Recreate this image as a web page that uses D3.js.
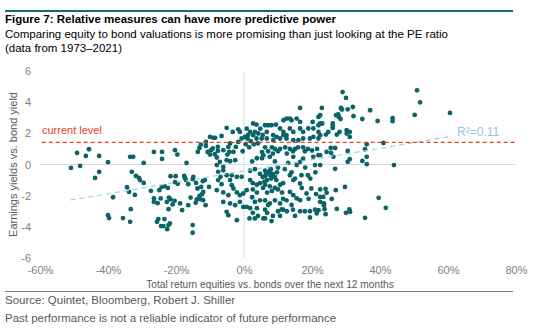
<!DOCTYPE html>
<html><head><meta charset="utf-8">
<script src="https://cdn.jsdelivr.net/npm/d3@7"></script>
<style>
body{margin:0;background:#fff;}
svg{display:block;font-family:"Liberation Sans",Arial,sans-serif;}
</style></head>
<body><svg id="c" width="544" height="334"></svg>
<script>
const titleText = "Figure 7: Relative measures can have more predictive power";
const subtitleLines = ["Comparing equity to bond valuations is more promising than just looking at the PE ratio", "(data from 1973\u20132021)"];
const footerLines = ["Source: Quintet, Bloomberg, Robert J. Shiller", "Past performance is not a reliable indicator of future performance"];
const xTicks = [-60, -40, -20, 0, 20, 40, 60, 80];
const yTicks = [-6, -4, -2, 0, 2, 4, 6];
const xLabel = "Total return equities vs. bonds over the next 12 months";
const yLabel = "Earnings yields vs. bond yield";
const currentLevel = 1.42;
const trendX = [-51, 60];
const trendY = [-2.28, 1.77];
const rSquaredLabel = "R\u00b2=0.11";
// [total return equities vs bonds next 12m (%), earnings yield minus bond yield]
const points = [
[-49.1,0.74],[-45.6,0.98],[-46.5,0.55],[-42.6,0.55],[-40.0,0.15],[-50.9,-0.22],[-48.2,-0.09],[-42.6,-0.47],[-43.8,-0.86],[-33.5,0.49],[-32.6,0.49],[-26.5,0.81],[-24.1,0.81],[-24.1,0.36],[-29.5,0.10],[-33.0,-0.47],[-31.8,-0.73],[-30.9,-0.86],[-30.6,-1.0],[-29.5,-1.18],[-34.4,-1.46],[-33.8,-1.76],[-32.1,-1.95],[-38.5,-2.1],[-27.4,-1.69],[-24.9,-1.65],[-24.2,-1.44],[-23.4,-1.39],[-22.4,-1.5],[-26.5,-2.18],[-26.5,-2.4],[-25.4,-2.48],[-24.5,-2.18],[-22.7,-2.4],[-22.1,-2.12],[-22.2,-2.87],[-33.3,-2.87],[-40.0,-3.25],[-39.7,-3.44],[-35.6,-3.44],[-33.5,-3.68],[-25.2,-3.5],[-25.6,-3.68],[-23.4,-3.5],[-24.4,-3.95],[-23.7,-3.95],[-22.6,-4.15],[-22.2,-3.89],
[-20.3,0.92],[-19.6,0.64],[-16.9,0.10],[-21.6,-0.75],[-20.1,-0.75],[-20.3,-1.13],[-19.5,-1.24],[-17.6,-0.73],[-17.4,-0.86],[-17.1,-0.99],[-14.9,-0.79],[-15.1,-0.94],[-16.4,-1.26],[-14.1,-1.18],[-12.1,-1.07],[-11.5,-1.0],[-13.7,-1.54],[-12.6,-1.44],[-10.3,-1.44],[-12.0,-1.76],[-12.4,-1.92],[-13.1,-2.01],[-15.7,-2.12],[-13.9,-2.24],[-12.9,-2.22],[-12.0,-2.29],[-21.6,-2.24],[-20.4,-2.33],[-21.0,-2.56],[-18.8,-2.5],[-16.4,-2.61],[-14.2,-2.46],[-11.3,-2.61],[-18.2,-2.93],[-21.8,-3.78],[-15.1,-3.89],[-15.1,-4.38],
[-13.6,0.81],[-13.1,1.06],[-12.7,1.28],[-11.2,1.45],[-11.2,1.19],[-10.0,1.77],[-9.0,1.71],[-8.5,1.71],[-10.7,0.81],[-10.0,0.64],[-9.7,0.92],[-9.2,1.03],[-7.7,1.13],[-7.7,0.87],[-6.6,1.83],[-5.1,2.35],[-3.3,2.09],[-1.7,2.26],[-1.2,2.09],[-6.1,0.92],[-4.6,1.13],[-4.1,1.35],[-8.6,0.66],[-8.0,0.45],[-7.1,0.17],[-4.9,0.64],[-4.3,0.81],[-3.1,0.81],[-2.4,1.13],[-1.7,1.45],[-0.7,1.67],[0.3,1.77],[1.0,1.67],[-0.4,0.85],[-5.1,0.28],[-4.1,0.21],[-2.6,0.28],[-8.0,-0.04],[-6.1,-0.15],[-6.1,-0.37],[-7.6,-0.47],[-6.9,-0.79],[-5.1,-0.69],[-3.6,-0.69],[-2.1,-0.79],[-0.7,-0.79],[-7.6,-1.0],[-6.6,-1.26],[-4.1,-1.0],[-3.6,-1.33],[-8.0,-1.65],[-6.1,-1.79],[-4.6,-1.97],[-3.1,-1.54],[-2.1,-1.79],[-1.2,-1.97],[-0.2,-1.86],[0.8,-1.65],[-6.1,-2.4],[-4.1,-2.5],[-2.6,-2.61],[-1.2,-2.4],[-0.2,-2.72],[-5.1,-3.04],[-4.6,-3.25],[-2.1,-3.57],[0.8,-2.72],[1.6,-3.46],
[16.5,3.63],[2.7,2.63],[3.7,2.56],[6.2,2.52],[7.1,2.52],[8.1,2.52],[9.4,2.56],[11.6,2.84],[12.5,2.95],[13.5,2.95],[14.0,2.84],[15.5,2.95],[16.5,2.73],[20.2,2.73],[21.9,3.05],[21.9,2.52],[1.8,2.09],[3.2,2.09],[4.2,1.99],[2.7,1.88],[3.7,1.67],[6.7,2.09],[8.6,1.88],[9.6,1.77],[10.6,2.31],[11.6,2.09],[12.5,1.88],[13.5,2.31],[14.5,2.09],[16.5,2.31],[17.4,2.09],[18.9,2.31],[20.4,2.31],[21.9,2.09],[5.2,1.67],[6.7,1.67],[8.6,1.56],[10.6,1.67],[11.6,1.88],[12.5,1.67],[14.5,1.56],[16.0,1.56],[17.4,1.67],[19.4,1.67],[20.4,1.77],[21.9,1.67],
[4.1,1.35],[6.2,1.1],[8.2,1.1],[9.1,1.0],[10.6,1.0],[12.1,1.1],[13.5,1.0],[15.0,1.0],[15.9,1.1],[17.4,1.1],[18.8,1.0],[20.0,0.9],[21.5,1.0],
[5.3,0.8],[7.1,0.85],[8.5,0.7],[10.0,0.85],[12.6,0.7],[14.4,0.85],[17.9,0.85],[5.7,0.6],[7.6,0.49],[14.5,0.49],[17.4,0.38],[20.4,0.49],[21.9,0.6],
[2.4,0.2],[3.8,0.4],[5.3,0.4],[6.2,-0.4],[7.6,-0.4],[9.1,0.2],[10.0,-0.2],[15.5,-0.04],[16.5,0.17],[20.9,-0.04],
[1.8,-0.4],[3.2,-0.3],[4.7,-0.6],[6.2,-0.75],[7.1,-0.5],[8.2,-0.7],[8.5,-0.6],[9.1,-0.8],[9.7,-0.5],[13.5,-0.69],[15.0,-0.9],[16.9,-0.69],[18.8,-0.69],
[6.5,-0.55],[7.5,-0.65],[8.0,-0.9],[6.8,-1.0],[5.5,-0.8],[9.5,-1.0],[7.9,-0.3],[6.0,-1.1],
[1.8,-1.0],[2.6,-1.2],[3.8,-1.3],[4.7,-1.2],[6.2,-1.3],[7.6,-1.4],[9.1,-1.5],[10.6,-1.3],[11.5,-1.2],[14.5,-1.0],[16.5,-1.22],
[2.6,-1.6],[3.8,-1.8],[5.6,-1.5],[6.8,-1.8],[8.2,-1.7],[10.0,-1.6],[11.2,-1.8],[13.5,-1.76],[14.5,-1.97],[15.5,-2.18],[16.5,-2.29],[18.4,-1.86],[19.8,-1.54],
[2.4,-2.1],[3.2,-2.4],[4.7,-2.3],[6.2,-2.3],[7.6,-2.5],[9.1,-2.3],[10.6,-2.5],[11.5,-2.2],
[1.8,-2.8],[3.8,-2.8],[6.2,-2.9],[7.1,-2.6],[10.0,-3.0],[11.5,-2.9],[12.6,-3.0],[14.4,-2.9],[16.5,-3.0],[17.9,-3.0],[19.4,-3.0],[20.9,-2.9],[11.1,-2.88],[21.4,-3.14],[21.9,-2.93],
[2.6,-3.1],[4.1,-3.3],[6.8,-3.1],[8.5,-3.3],[10.6,-3.3],[15.0,-3.3],[19.4,-3.4],[5.7,-3.46],[8.1,-3.63],[3.2,-3.46],[6.2,-3.46],
[0.8,2.3],[1.2,1.9],[2.0,1.5],[4.8,2.3],[5.5,1.9],[0.5,1.3],[1.5,1.1],[2.9,1.3],
[12.0,-0.3],[13.0,0.1],[14.0,-0.5],[18.0,-0.2],[19.5,-0.9],[21.0,-0.5],[17.0,-1.5],[19.0,-2.2],[21.2,-1.9],[12.5,-2.3],[14.0,-2.6],
[29.0,4.65],[30.0,4.27],[22.9,3.63],[28.5,3.63],[28.8,3.53],[30.5,3.54],[32.0,3.69],[37.1,3.48],[27.1,3.16],[27.7,3.21],[27.9,3.05],[28.4,2.92],[32.2,3.10],[34.8,2.92],[39.3,2.79],[43.7,2.97],[43.7,2.78],[22.4,3.16],[22.4,2.63],[23.0,2.63],[26.1,2.63],[26.1,2.47],[26.1,2.35],[30.2,2.2],[30.2,1.99],[31.1,2.09],[31.1,1.77],[28.1,2.09],[27.3,1.92],[24.8,2.09],[24.1,1.92],[22.4,1.88],[41.0,1.38],[36.1,1.30],[35.6,0.98],[25.5,1.06],[26.8,1.06],[24.3,0.81],[25.6,0.74],[30.5,0.87],[22.4,0.6],[26.3,0.49],[31.1,0.34],[30.5,0.17],[34.8,0.23],[36.1,0.49],[36.1,0.02],[22.4,-0.04],[26.8,-0.28],[44.1,-0.04],
[29.7,-1.44],[22.4,-1.6],[24.0,-1.56],[27.0,-1.65],[24.3,-1.82],[22.4,-2.08],[23.3,-2.08],[25.8,-2.21],[22.4,-2.4],[23.5,-2.5],[23.5,-2.61],[23.7,-2.87],[24.0,-3.19],[27.3,-2.85],[30.0,-3.1],[31.0,-2.88],[31.2,-3.04],[39.6,-2.14],[41.7,-2.78],[35.6,-3.42],
[50.9,4.76],[51.8,3.99],[50.2,3.18],[60.6,3.31]
];

const svg = d3.select("#c");
const teal = "#0b6468";
const gray = "#808080";

// top rule
svg.append("line").attr("x1",5).attr("x2",513).attr("y1",11).attr("y2",11)
  .attr("stroke","#126d70").attr("stroke-width",2);
svg.append("text").attr("x",5).attr("y",23).attr("font-size",11.5).attr("font-weight","bold")
  .attr("fill","#000").text(titleText);
svg.selectAll("text.sub").data(subtitleLines).enter().append("text").attr("class","sub")
  .attr("x",5).attr("y",(d,i)=>38+i*14).attr("font-size",11.5).attr("fill","#000").text(d=>d);

const x = d3.scaleLinear().domain([-60,80]).range([40,516]);
const y = d3.scaleLinear().domain([-6,6]).range([258,71]);

// zero gridlines
svg.append("line").attr("x1",x(-60)).attr("x2",x(80)).attr("y1",y(0)).attr("y2",y(0))
  .attr("stroke","#d9d9d9").attr("stroke-width",1);
svg.append("line").attr("x1",x(0)).attr("x2",x(0)).attr("y1",y(6)).attr("y2",y(-6))
  .attr("stroke","#d9d9d9").attr("stroke-width",1);

// axes
const gx = svg.append("g").attr("transform",`translate(0,${y(-6)})`)
  .call(d3.axisBottom(x).tickValues(xTicks).tickSize(0).tickPadding(8).tickFormat(d=>d+"%"));
const gy = svg.append("g").attr("transform",`translate(${x(-60)},0)`)
  .call(d3.axisLeft(y).tickValues(yTicks).tickSize(0).tickPadding(9).tickFormat(d=>d));
[gx,gy].forEach(g=>{
  g.select(".domain").remove();
  g.selectAll("text").attr("font-size",11).attr("fill",gray).attr("font-family","Liberation Sans, Arial, sans-serif");
});

// points
svg.append("g").selectAll("circle").data(points).enter().append("circle")
  .attr("cx",d=>x(d[0])).attr("cy",d=>y(d[1])).attr("r",2.4).attr("fill",teal);

// trend line
svg.append("line").attr("x1",x(trendX[0])).attr("x2",x(trendX[1]))
  .attr("y1",y(trendY[0])).attr("y2",y(trendY[1]))
  .attr("stroke","#9fcfe8").attr("stroke-width",1.2).attr("stroke-dasharray","5,4");
svg.append("text").attr("x",457).attr("y",y(trendY[1])-1).attr("font-size",12)
  .attr("fill","#8fc4e2").text(rSquaredLabel);

// current level
svg.append("line").attr("x1",x(-59.5)).attr("x2",x(80)).attr("y1",y(currentLevel)).attr("y2",y(currentLevel))
  .attr("stroke","#e8401c").attr("stroke-width",1.3).attr("stroke-dasharray","4,3");
svg.append("text").attr("x",42).attr("y",y(currentLevel)-8).attr("font-size",11)
  .attr("fill","#e8401c").text("current level");

// axis titles
svg.append("text").attr("x",270).attr("y",288).attr("text-anchor","middle").attr("font-size",10.2)
  .attr("fill","#595959").text(xLabel);
svg.append("text").attr("transform",`translate(17,${y(0)}) rotate(-90)`).attr("text-anchor","middle")
  .attr("font-size",11).attr("fill","#595959").text(yLabel);

// bottom rule + footer
svg.append("line").attr("x1",5).attr("x2",513).attr("y1",291.5).attr("y2",291.5)
  .attr("stroke","#7f7f7f").attr("stroke-width",1);
svg.selectAll("text.foot").data(footerLines).enter().append("text").attr("class","foot")
  .attr("x",5).attr("y",(d,i)=>304+i*18).attr("font-size",11.5).attr("fill","#595959").text(d=>d);
</script>
</body></html>
